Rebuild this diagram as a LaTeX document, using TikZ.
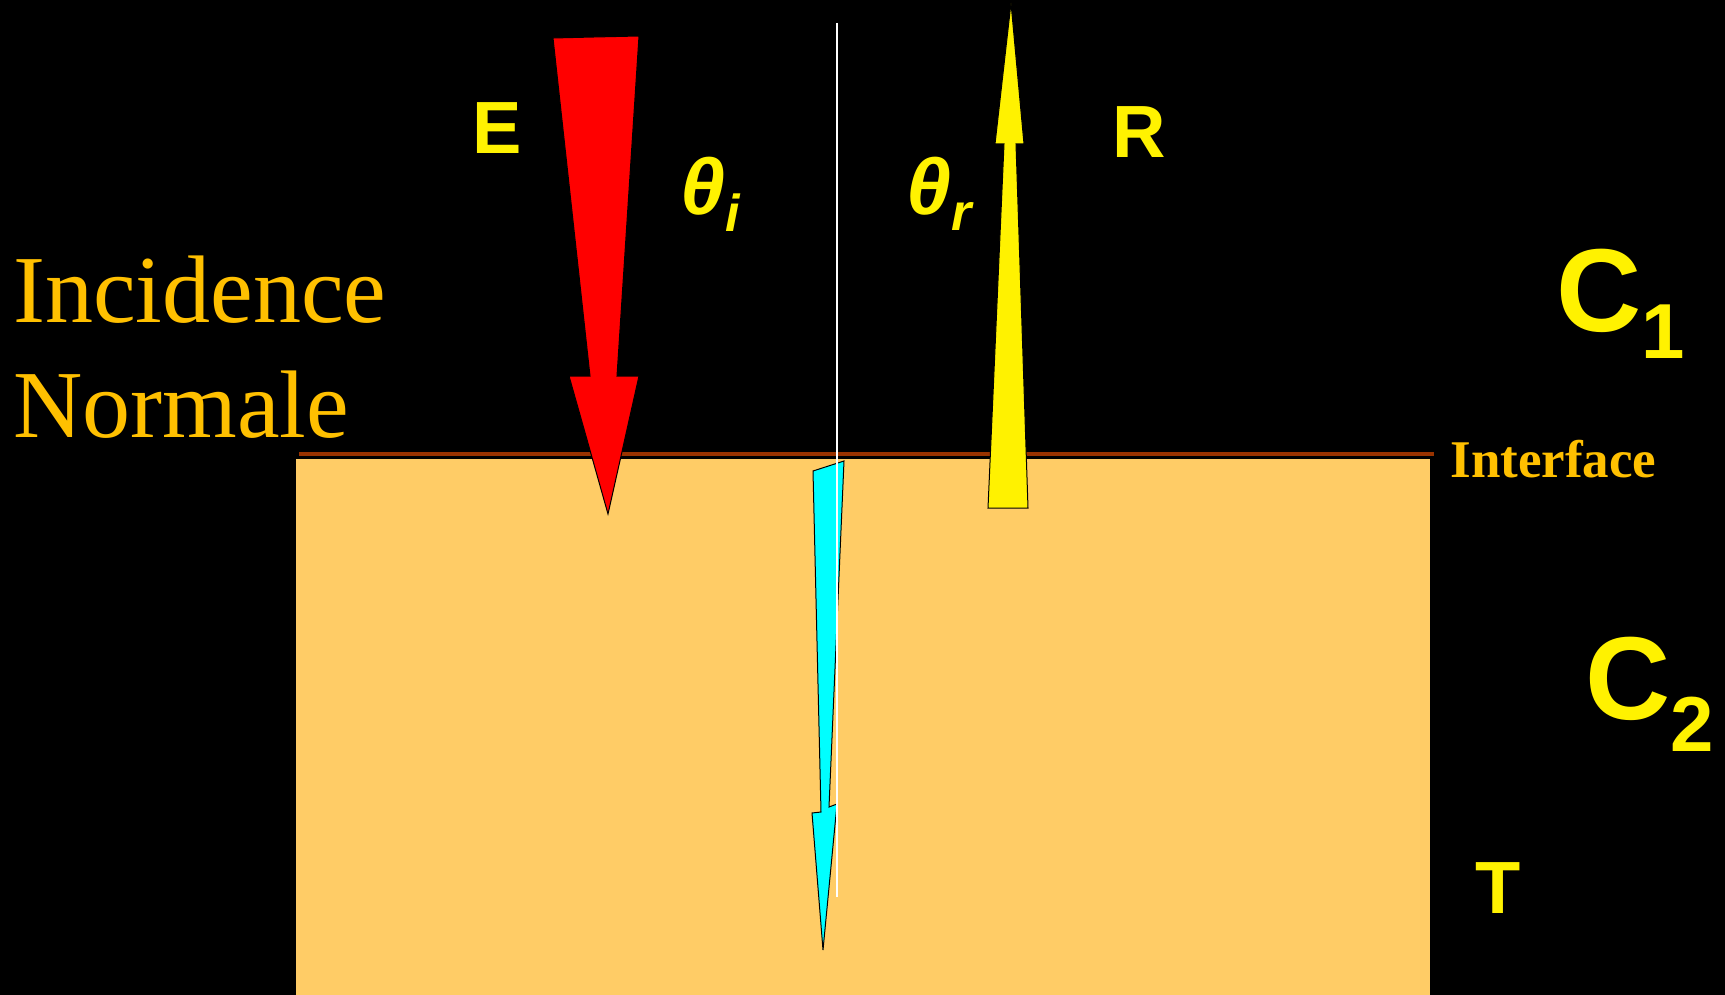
\documentclass[tikz,border=0pt]{standalone}
\usepackage{fontspec}
\setmainfont{Liberation Serif}
\setsansfont{Liberation Sans}
\definecolor{slab}{HTML}{FFCC66}
\definecolor{interfacebrown}{HTML}{993300}
\definecolor{labelorange}{HTML}{FFC000}
\definecolor{raycyan}{HTML}{00FFFF}

\begin{document}
\begin{tikzpicture}[
    x=0.5pt, y=-0.5pt,
    ray/.style={draw=black, line width=0.5pt, line join=miter},
    wavelabel/.style={font={\sffamily\bfseries\fontsize{37}{37}\selectfont}, text=yellow, inner sep=0pt, anchor=base},
    anglelabel/.style={font={\sffamily\bfseries\itshape\fontsize{36}{36}\selectfont}, text=yellow, inner sep=0pt, anchor=base west},
    medium/.style={font={\sffamily\bfseries\fontsize{59}{59}\selectfont}, text=yellow, inner sep=0pt, anchor=base west},
    titletext/.style={font={\fontsize{48}{48}\selectfont}, text=labelorange, inner sep=0pt, anchor=base west}
]
% background and second medium
\fill[black] (0,0) rectangle (1725,995);
\useasboundingbox (0,0) rectangle (1725,995);
\fill[slab] (296,459) rectangle (1430,995);
\draw[interfacebrown, line width=2pt] (299,454) -- (1434,454);

% incident, reflected and transmitted waves
\filldraw[ray, fill=red] (553,38) -- (594,37) -- (639,36) -- (617,376) -- (639,376)
    -- (608,514) -- (569,376) -- (590,376) -- cycle;
\filldraw[ray, fill=yellow] (988,508) -- (1028,508) -- (1016,144) -- (1024,144)
    -- (1011,3) -- (995,144) -- (1004,144) -- cycle;
\filldraw[ray, fill=raycyan] (813,471) -- (844,461) -- (829,807) -- (837,804)
    -- (823,950) -- (812,813) -- (821,812) -- cycle;

% normal
\coordinate (ntop) at (837,23);
\coordinate (nbot) at (837,897);
\draw[white, line width=0.6pt] (ntop) -- (nbot);

% labels
\node[wavelabel] (lblE) at (497,154) {E};
\node[wavelabel] (lblR) at (1139,158) {R};
\node[wavelabel] (lblT) at (1498,913) {T};
\node[anglelabel] (thetai) at (680,214) {\scalebox{1.12}[1.1]{θ}\raisebox{-8.5pt}{\fontsize{26}{26}\selectfont i}};
\node[anglelabel] (thetar) at (906,214) {\scalebox{1.12}[1.1]{θ}\raisebox{-8pt}{\fontsize{26}{26}\selectfont r}};
\node[medium] (cone) at (1556,331) {C\raisebox{-13.5pt}{\fontsize{39}{39}\selectfont 1}};
\node[medium] (ctwo) at (1585,719) {C\raisebox{-16pt}{\fontsize{39}{39}\selectfont 2}};
\node[titletext] (incid) at (13,322) {Incidence};
\node[titletext] (normale) at (13,437) {Normale};
\node[font={\bfseries\fontsize{26.5}{26.5}\selectfont}, text=labelorange, inner sep=0pt, anchor=base west] (iface) at (1450,477) {Interface};
\end{tikzpicture}
\end{document}
